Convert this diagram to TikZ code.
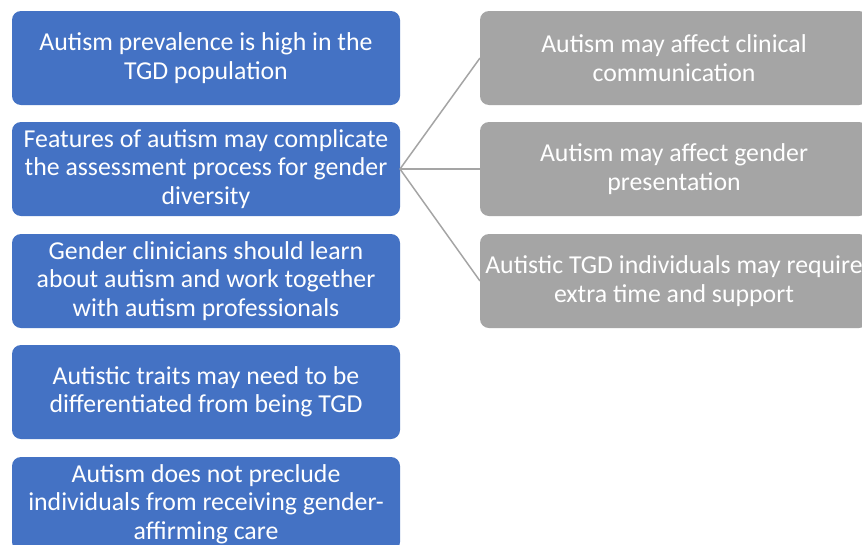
\documentclass[tikz,border=0pt]{standalone}
\usepackage{fontspec}
\setmainfont{Carlito}
\definecolor{boxblue}{HTML}{4472C4}
\definecolor{boxgrey}{HTML}{A5A5A5}
\definecolor{linegrey}{HTML}{A5A5A5}
\begin{document}
\begin{tikzpicture}[x=1pt,y=-1pt,
  card/.style={rounded corners=9pt, minimum width=388pt, minimum height=94pt,
    inner sep=0pt, outer sep=0pt, text=white, align=center,
    font=\fontsize{25.8}{28.5}\selectfont},
  leftcard/.style={card, fill=boxblue},
  rightcard/.style={card, fill=boxgrey},
  link/.style={draw=linegrey, line width=1.5pt}]
\useasboundingbox (0,0) rectangle (862,544);
\clip (0,0) rectangle (862,544);
\fill[white] (0,0) rectangle (862,544);

% left column
\node[leftcard] (l1) at (206,58) {Autism prevalence is high in the\\TGD population};
\node[leftcard] (l2) at (206,169) {Features of autism may complicate\\the assessment process for gender\\diversity};
\node[leftcard] (l3) at (206,281) {Gender clinicians should learn\\about autism and work together\\with autism professionals};
\node[leftcard] (l4) at (206,392) {Autistic traits may need to be\\differentiated from being TGD};
\node[leftcard] (l5) at (206,504) {Autism does not preclude\\individuals from receiving gender-\\affirming care};

% right column
\node[rightcard] (r1) at (674,58) {Autism may affect clinical\\communication};
\node[rightcard] (r2) at (674,169) {Autism may affect gender\\presentation};
\node[rightcard] (r3) at (674,281) {Autistic TGD individuals may require\\extra time and support};

% connectors
\draw[link] (l2.east) -- (r1.west);
\draw[link] (l2.east) -- (r2.west);
\draw[link] (l2.east) -- (r3.west);
\end{tikzpicture}
\end{document}
